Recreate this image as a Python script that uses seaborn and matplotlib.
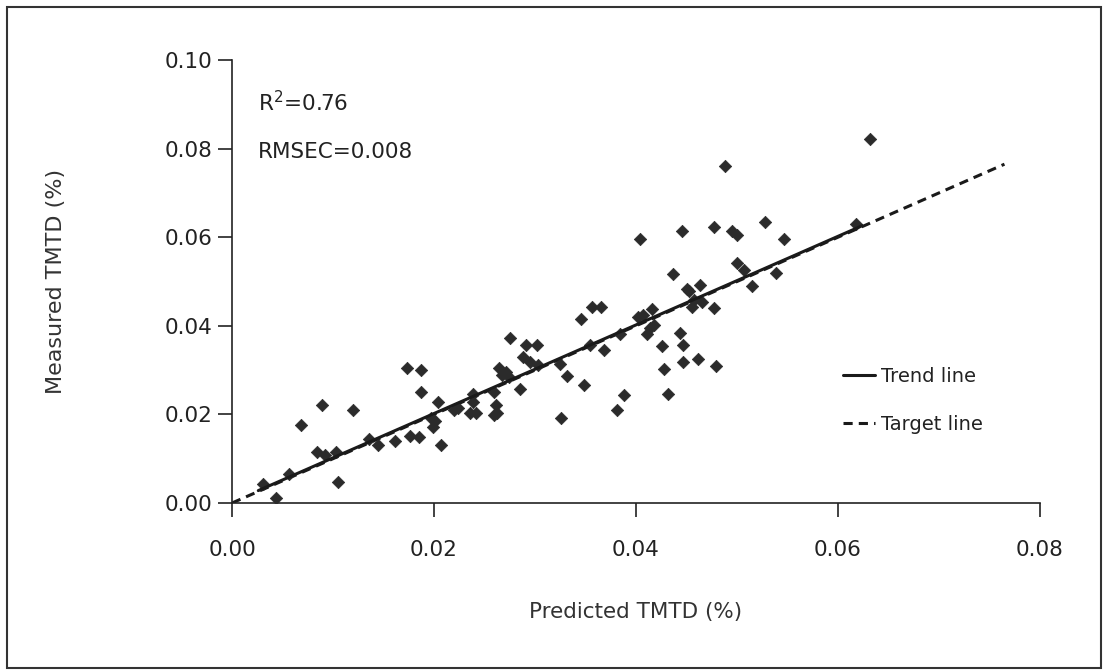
import matplotlib
matplotlib.use("Agg")
import matplotlib.pyplot as plt
import seaborn as sns
import pandas as pd
from matplotlib.patches import Rectangle
from matplotlib.lines import Line2D

predicted = [0.0031, 0.0044, 0.0056, 0.0068, 0.0084, 0.0089, 0.0092, 0.0103, 0.0105, 0.0120,
             0.0136, 0.0145, 0.0161, 0.0173, 0.0176, 0.0185, 0.0187, 0.0187, 0.0197, 0.0199,
             0.0201, 0.0204, 0.0207, 0.0220, 0.0224, 0.0236, 0.0239, 0.0239, 0.0242, 0.0259,
             0.0259, 0.0261, 0.0262, 0.0264, 0.0267, 0.0271, 0.0274, 0.0275, 0.0285, 0.0288,
             0.0291, 0.0295, 0.0302, 0.0303, 0.0325, 0.0326, 0.0332, 0.0349, 0.0346, 0.0355,
             0.0356, 0.0365, 0.0368, 0.0381, 0.0384, 0.0388, 0.0402, 0.0404, 0.0407, 0.0411,
             0.0414, 0.0416, 0.0418, 0.0426, 0.0428, 0.0432, 0.0437, 0.0444, 0.0446, 0.0447,
             0.0447, 0.0451, 0.0453, 0.0456, 0.0458, 0.0463, 0.0461, 0.0465, 0.0477, 0.0477,
             0.0479, 0.0488, 0.0495, 0.0500, 0.0500, 0.0507, 0.0515, 0.0528, 0.0539, 0.0547,
             0.0618, 0.0632]
measured = [0.0043, 0.0012, 0.0065, 0.0176, 0.0116, 0.0222, 0.0108, 0.0116, 0.0048, 0.0210,
            0.0145, 0.0130, 0.0140, 0.0304, 0.0152, 0.0150, 0.0300, 0.0251, 0.0193, 0.0171,
            0.0184, 0.0227, 0.0132, 0.0210, 0.0215, 0.0203, 0.0246, 0.0227, 0.0203, 0.0198,
            0.0251, 0.0222, 0.0203, 0.0304, 0.0290, 0.0295, 0.0285, 0.0372, 0.0258, 0.0329,
            0.0357, 0.0319, 0.0357, 0.0312, 0.0314, 0.0193, 0.0287, 0.0266, 0.0415, 0.0357,
            0.0442, 0.0442, 0.0345, 0.0210, 0.0382, 0.0244, 0.0420, 0.0596, 0.0425, 0.0382,
            0.0396, 0.0438, 0.0403, 0.0355, 0.0302, 0.0246, 0.0517, 0.0384, 0.0614, 0.0357,
            0.0319, 0.0483, 0.0478, 0.0442, 0.0459, 0.0493, 0.0324, 0.0454, 0.0623, 0.0440,
            0.0309, 0.0760, 0.0614, 0.0606, 0.0541, 0.0525, 0.0490, 0.0635, 0.0520, 0.0596,
            0.0631, 0.0821]

trend_x = [0.0026, 0.0624]
trend_y = [0.0028, 0.0626]
target_x = [0.0, 0.0765]
target_y = [0.0, 0.0765]

x_ticks = [0.00, 0.02, 0.04, 0.06, 0.08]
y_ticks = [0.00, 0.02, 0.04, 0.06, 0.08, 0.10]

sns.set_style("white")
plt.rcParams['font.family'] = ['DejaVu Sans']

df = pd.DataFrame({"Predicted": predicted, "Measured": measured})

fig = plt.figure(figsize=(11.05, 6.71), dpi=100)
ax = fig.add_axes([0.21, 0.2504, 0.731, 0.66])

fig.patches.append(Rectangle((0.006, 0.005), 0.99, 0.984, transform=fig.transFigure,
                             fill=False, edgecolor="#333333", linewidth=1.5))

sns.scatterplot(data=df, x="Predicted", y="Measured", marker="D", s=40,
                color="#2b2b2b", edgecolor="#2b2b2b", linewidth=0.5, ax=ax, zorder=3)
sns.lineplot(x=trend_x, y=trend_y, color="#1a1a1a", linewidth=2.2, ax=ax, zorder=4)
sns.lineplot(x=target_x, y=target_y, color="#1a1a1a", linewidth=2.2, ax=ax, zorder=2)
ax.lines[-1].set_linestyle((0, (3, 2)))

ax.set_xlim(0, 0.08)
ax.set_ylim(0, 0.10)
ax.set_xticks(x_ticks)
ax.set_yticks(y_ticks)
ax.set_xticklabels([f"{v:.2f}" for v in x_ticks])
ax.set_yticklabels([f"{v:.2f}" for v in y_ticks])
ax.tick_params(axis="both", direction="out", length=10, width=1.2, color="#222222",
               labelsize=15.5, labelcolor="#222222", pad=4, left=True, bottom=True)
ax.tick_params(axis="x", pad=17)
for side in ["top", "right"]:
    ax.spines[side].set_visible(False)
for side in ["left", "bottom"]:
    ax.spines[side].set_color("#222222")
    ax.spines[side].set_linewidth(1.2)

ax.set_xlabel("Predicted TMTD (%)", fontsize=15.5, color="#333333", labelpad=30)
ax.set_ylabel("Measured TMTD (%)", fontsize=16, color="#333333", labelpad=71)

ax.text(0.032, 0.903, r"R$^2$=0.76", transform=ax.transAxes, fontsize=15.5,
        color="#222222", va="center", ha="left")
ax.text(0.032, 0.792, "RMSEC=0.008", transform=ax.transAxes, fontsize=15.5,
        color="#222222", va="center", ha="left")

handles = [Line2D([0], [0], color="#1a1a1a", linewidth=2.2),
           Line2D([0], [0], color="#1a1a1a", linewidth=2.2, linestyle=(0, (3, 2)))]
ax.legend(handles, ["Trend line", "Target line"], loc="center left",
          bbox_to_anchor=(0.735, 0.232), frameon=False, fontsize=14,
          handlelength=1.65, handletextpad=0.3, labelspacing=1.5,
          labelcolor="#222222")

fig.savefig("out.png", dpi=100, facecolor="white")
